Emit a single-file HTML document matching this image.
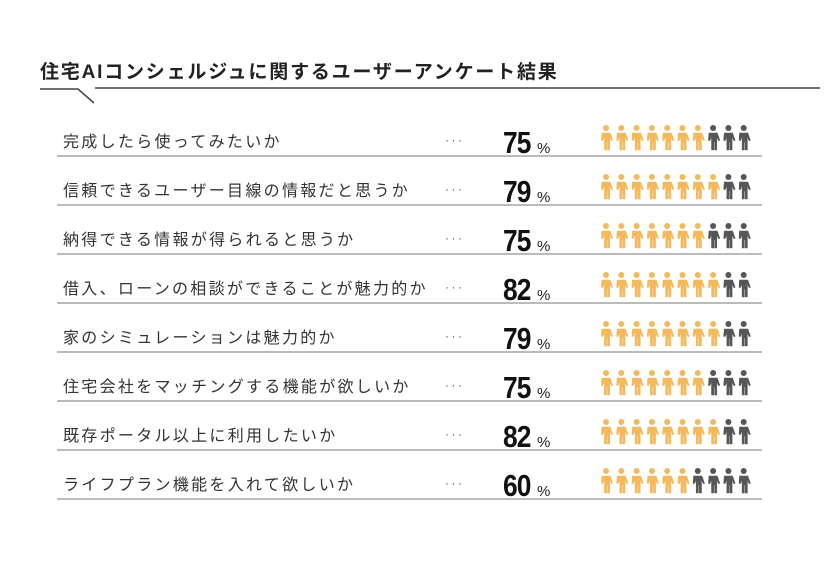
<!DOCTYPE html>
<html><head><meta charset="utf-8"><style>
body{margin:0;width:840px;height:560px;background:#fff;overflow:hidden;font-family:"Liberation Sans","Noto Sans CJK JP",sans-serif}
svg text{font-family:"Liberation Sans","Noto Sans CJK JP",sans-serif}
</style></head><body>
<svg id="c" width="840" height="560">
<text x="40" y="78" font-size="19" font-weight="bold" fill="#222" letter-spacing="1.8">住宅AIコンシェルジュに関するユーザーアンケート結果</text>
<path d="M40 89 H78 L94 103 M95 88 H820" stroke="#444" stroke-width="1.5" fill="none"/>
<g id="rows"></g>
</svg>
<script>
const questions=["完成したら使ってみたいか","信頼できるユーザー目線の情報だと思うか","納得できる情報が得られると思うか","借入、ローンの相談ができることが魅力的か","家のシミュレーションは魅力的か","住宅会社をマッチングする機能が欲しいか","既存ポータル以上に利用したいか","ライフプラン機能を入れて欲しいか"];
const percents=[75,79,75,82,79,75,82,60];
const NS="http://www.w3.org/2000/svg";
const g=document.getElementById('rows');
function mk(t,a,p){const e=document.createElementNS(NS,t);for(const k in a)e.setAttribute(k,a[k]);(p||g).appendChild(e);return e;}
const rowY=i=>156+i*49;
questions.forEach((q,i)=>{
  const y=rowY(i);
  const row=mk('g',{});
  
  
  const line=mk('line',{x1:57,x2:762,y1:y,y2:y,stroke:'#bbb','stroke-width':2},row);
  
  
  const t=mk('text',{x:63,y:y-9,'font-size':16,fill:'#333','letter-spacing':'2.3'},row);t.textContent=q;
  
  
  const d=mk('text',{x:445,y:y-12,'font-size':12,fill:'#555','letter-spacing':'2.5'},row);d.textContent='···';
  
  
  const n=mk('text',{x:0,y:0,'font-size':31,'font-weight':'bold',fill:'#111','letter-spacing':'-1',transform:`translate(503 ${y-3}) scale(0.85 1)`},row);n.textContent=percents[i];
  
  
  const pc=mk('text',{x:537,y:y-3,'font-size':15,fill:'#222'},row);pc.textContent='%';
  
  
  const on=Math.round((percents[i]-1)/10);
  for(let k=0;k<10;k++){
    const cx=606+k*15.3, col=k<on?'#f4b95c':'#565656';
    const ic=mk('g',{fill:col,stroke:col},row);
    
    
    mk('circle',{cx:cx,cy:y-28,r:3,stroke:'none'},ic);
    mk('path',{d:`M${cx-4.2} ${y-23} h8.4 l2.6 7.5 h-1.6 l-1.5-4 v13.5 h-2.2 v-8 h-0.9 v8 h-2.2 v-13.5 l-1.5 4 h-1.6 z`,'stroke-width':0.5},ic);
  }
});
</script>
</body></html>
